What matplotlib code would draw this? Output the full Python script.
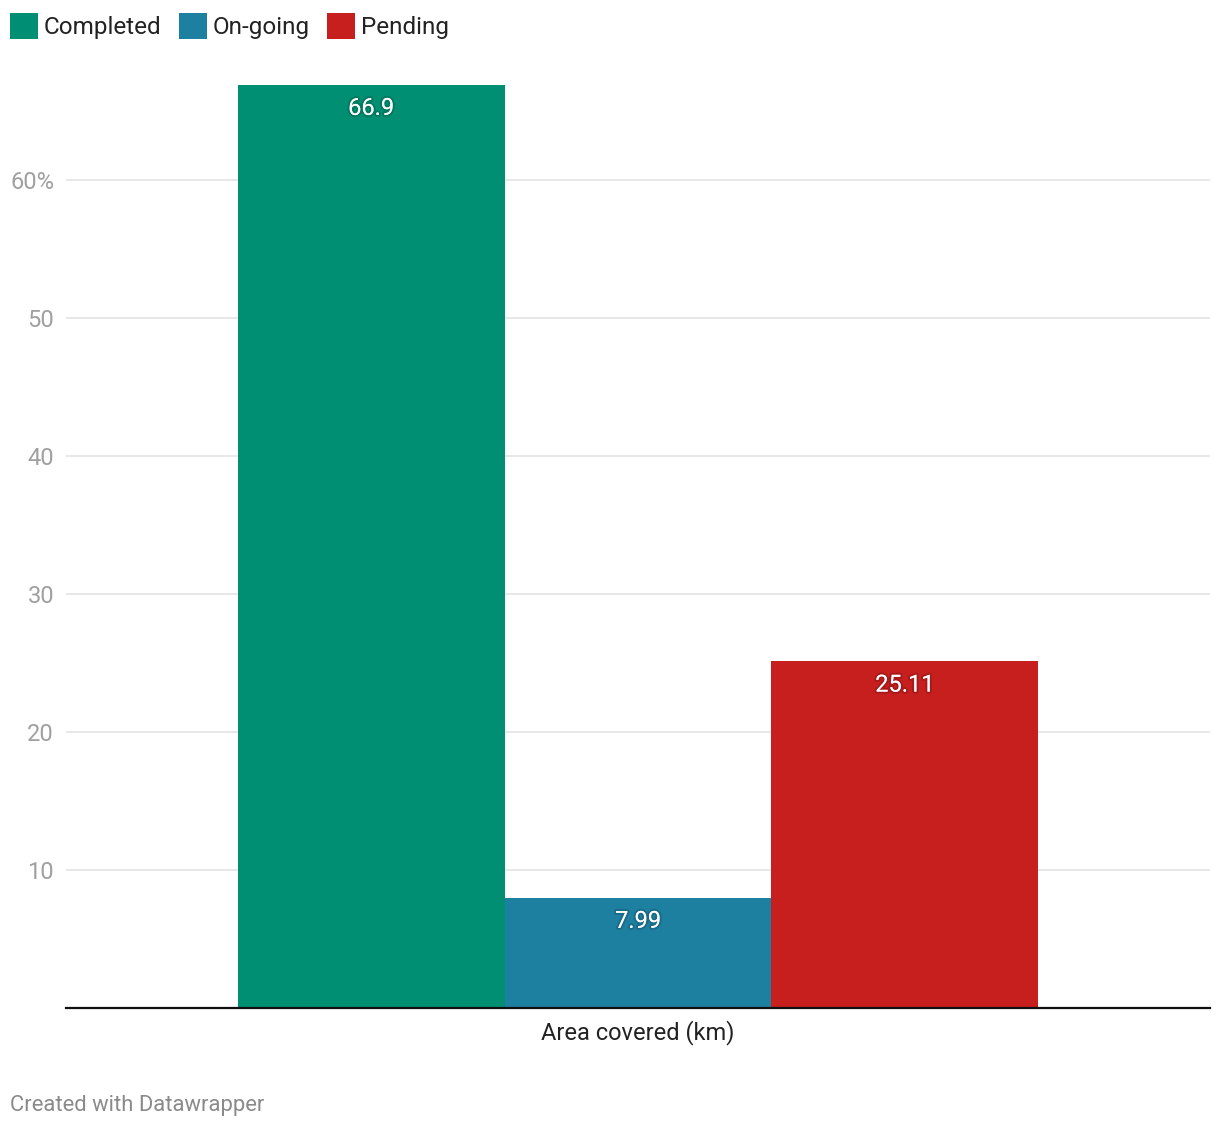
import matplotlib
matplotlib.use("Agg")
import matplotlib.pyplot as plt
import matplotlib.patheffects as pe
from matplotlib.patches import Patch

plt.rcParams['font.family'] = ['Roboto', 'DejaVu Sans']

# ── Dados ────────────────────────────────────────────────────────────────
categoria = "Area covered (km)"
series = ["Completed", "On-going", "Pending"]
valores = [66.9, 7.99, 25.11]
rotulos = ["66.9", "7.99", "25.11"]
cores = ["#008f72", "#1e80a1", "#c71e1e"]
ticks_y = [10, 20, 30, 40, 50, 60]
ticks_y_txt = ["10", "20", "30", "40", "50", "60%"]

fig = plt.figure(figsize=(12.2, 11.3), dpi=100)
ax = fig.add_axes([66 / 1220, 1 - 1008 / 1130, (1210 - 66) / 1220, (1008 - 69.6) / 1130])

largura = 0.7 / len(series)
for i, (s, v, cor, txt) in enumerate(zip(series, valores, cores, rotulos)):
    xpos = (i - 1) * largura
    ax.bar(xpos, v, largura, color=cor, zorder=2, linewidth=0)
    ax.annotate(txt, (xpos, v), xytext=(0, -17), textcoords="offset points",
                ha="center", va="center", color="white", fontsize=17, zorder=4,
                path_effects=[pe.withStroke(linewidth=3, foreground=(0, 0, 0, 0.15))])

ax.set_xlim(-0.5, 0.5)
ax.set_ylim(0, 68)
ax.set_xticks([0])
ax.set_xticklabels([categoria], fontsize=17, color="#222222")
ax.set_yticks(ticks_y)
ax.set_yticklabels(ticks_y_txt, fontsize=17, color="#a0a0a0")
ax.tick_params(axis="x", length=0, pad=9)
ax.tick_params(axis="y", length=0, pad=8.6)
ax.grid(axis="y", color="#e4e4e4", linewidth=1.2, zorder=0)
for lado in ["top", "right", "left"]:
    ax.spines[lado].set_visible(False)
ax.spines["bottom"].set_color("#111111")
ax.spines["bottom"].set_linewidth(1.6)
ax.spines["bottom"].set_zorder(3)

handles = [Patch(facecolor=c, edgecolor="none") for c in cores]
fig.legend(handles, series, loc="upper left", bbox_to_anchor=(10 / 1220, 1 - 13 / 1130),
           ncol=3, frameon=False, fontsize=17.5, handlelength=1.15, handleheight=1.3,
           handletextpad=0.25, columnspacing=0.7, borderpad=0, borderaxespad=0,
           labelcolor="#222222")

fig.text(10 / 1220, 1 - 1105 / 1130, "Created with Datawrapper", fontsize=15.8,
         color="#8a8a8a", ha="left", va="center")

fig.savefig("out.png", dpi=100)
